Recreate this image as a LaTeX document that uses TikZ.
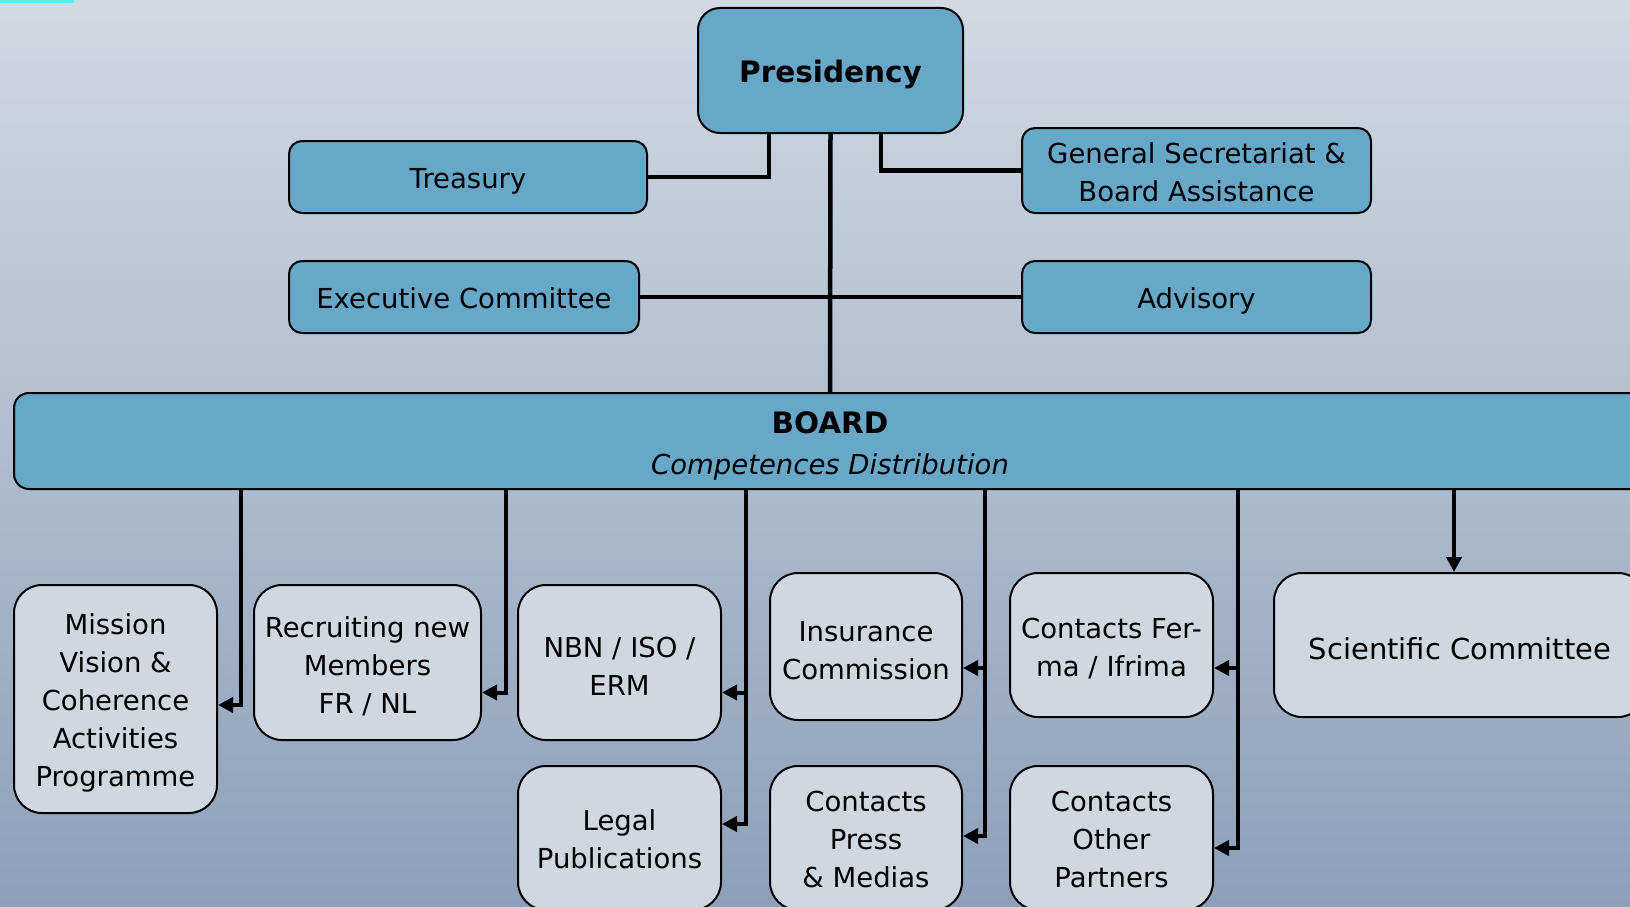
\documentclass[tikz,border=0pt]{standalone}
\usepackage{fontspec}
\setmainfont{DejaVu Sans}
\usetikzlibrary{arrows.meta,calc}
\definecolor{boxblue}{RGB}{103,168,200}
\definecolor{boxgrey}{RGB}{207,215,225}
\definecolor{bgtop}{RGB}{209,217,226}
\definecolor{bgmid}{RGB}{186,197,210}
\definecolor{bgbot}{RGB}{140,160,186}
\definecolor{cyanbar}{RGB}{102,229,255}
\begin{document}
\begin{tikzpicture}[x=1pt,y=-1pt,
  txt/.style={font=\fontsize{27.5}{38}\selectfont},
  tl/.style={txt, align=center, inner sep=0pt, yshift=-4pt},
  tlow/.style={tl, yshift=2.5pt},
  bluebox/.style={draw=black, line width=2pt, fill=boxblue, rounded corners=13pt, inner sep=0pt},
  greybox/.style={draw=black, line width=2pt, fill=boxgrey, rounded corners=28pt, inner sep=0pt},
  conn/.style={line width=4.5pt},
  bconn/.style={line width=4pt},
  arr/.style={bconn, -{Triangle[length=15pt,width=15pt]}}]
\useasboundingbox (0,0) rectangle (1630,907);
\clip (0,0) rectangle (1630,907);
\shade[top color=bgtop, middle color=bgmid, bottom color=bgbot] (0,0) rectangle (1630,907);
\fill[cyanbar] (0,0) rectangle (74,3);

% top level
\node[bluebox, rounded corners=22pt, minimum width=265pt, minimum height=125pt,
  label={[tl, font=\fontsize{29.5}{38}\selectfont\bfseries]center:Presidency}] (pres) at (830.5,70.5) {};
\node[bluebox, minimum width=358pt, minimum height=72pt,
  label={[tl]center:Treasury}] (tre) at (468,177) {};
\node[bluebox, minimum width=349pt, minimum height=85pt,
  label={[tl, yshift=2pt]center:{General Secretariat \&\\Board Assistance}}] (gen) at (1196.5,170.5) {};
\node[bluebox, minimum width=350pt, minimum height=72pt,
  label={[tl, yshift=2.5pt]center:Executive Committee}] (exe) at (464,297) {};
\node[bluebox, minimum width=349pt, minimum height=72pt,
  label={[tl]center:Advisory}] (adv) at (1196.5,297) {};
\node[bluebox, rounded corners=15pt, minimum width=1632pt, minimum height=96pt,
  label={[tl, yshift=-1pt, font=\fontsize{27.5}{41}\selectfont]center:{{\fontsize{29.5}{41}\selectfont\bfseries BOARD}\\\textit{Competences Distribution}}}] (board) at (830,441) {};

% children
\node[greybox, minimum width=203pt, minimum height=228pt,
  label={[tl]center:{Mission\\Vision \&\\Coherence\\Activities\\Programme}}] (mis) at (115.5,699) {};
\node[greybox, minimum width=227pt, minimum height=155pt,
  label={[tl]center:{Recruiting new\\Members\\FR / NL}}] (rec) at (367.5,662.5) {};
\node[greybox, minimum width=203pt, minimum height=155pt,
  label={[tl]center:{NBN / ISO /\\ERM}}] (nbn) at (619.5,662.5) {};
\node[greybox, minimum width=203pt, minimum height=144pt,
  label={[tlow]center:{Legal\\Publications}}] (leg) at (619.5,838) {};
\node[greybox, minimum width=192pt, minimum height=147pt,
  label={[tl]center:{Insurance\\Commission}}] (ins) at (866,646.5) {};
\node[greybox, minimum width=192pt, minimum height=144pt,
  label={[tlow]center:{Contacts\\Press\\\& Medias}}] (pre) at (866,838) {};
\node[greybox, minimum width=203pt, minimum height=144pt,
  label={[tl]center:{Contacts Fer-\\ma / Ifrima}}] (fer) at (1111.5,645) {};
\node[greybox, minimum width=203pt, minimum height=144pt,
  label={[tlow]center:{Contacts\\Other\\Partners}}] (oth) at (1111.5,838) {};
\node[greybox, minimum width=372pt, minimum height=144pt,
  label={[tl, font=\fontsize{29}{38}\selectfont]center:Scientific Committee}] (sci) at (1460,645) {};

% top connectors
\draw[conn] (pres.south) -- (board.north);
\draw[conn] ([xshift=-61.5pt]pres.south) |- (tre.east);
\draw[conn] ([xshift=50.5pt]pres.south) |- (gen.west);
\draw[bconn] (exe.east) -- (adv.west);

% bus coordinates
\coordinate (b1) at ([xshift=-589pt]board.south);
\coordinate (b2) at ([xshift=-324pt]board.south);
\coordinate (b3) at ([xshift=-84pt]board.south);
\coordinate (b4) at ([xshift=155pt]board.south);
\coordinate (b5) at ([xshift=408pt]board.south);
\coordinate (b6) at ([xshift=624pt]board.south);

\coordinate (misA) at ([yshift=-6pt]mis.east);
\coordinate (recA) at ([yshift=-30pt]rec.east);
\coordinate (nbnA) at ([yshift=-30pt]nbn.east);
\coordinate (legA) at ([yshift=14pt]leg.east);
\coordinate (insA) at ([yshift=-21.5pt]ins.east);
\coordinate (preA) at ([yshift=2pt]pre.east);
\coordinate (ferA) at ([yshift=-23pt]fer.east);
\coordinate (othA) at ([yshift=-10pt]oth.east);

\draw[arr] (b1) |- (misA);
\draw[arr] (b2) |- (recA);
\draw[arr] (b3) |- (legA);
\draw[arr] (b3 |- nbnA) -- (nbnA);
\draw[arr] (b4) |- (preA);
\draw[arr] (b4 |- insA) -- (insA);
\draw[arr] (b5) |- (othA);
\draw[arr] (b5 |- ferA) -- (ferA);
\draw[arr] (b6) -- (b6 |- sci.north);
\end{tikzpicture}
\end{document}
